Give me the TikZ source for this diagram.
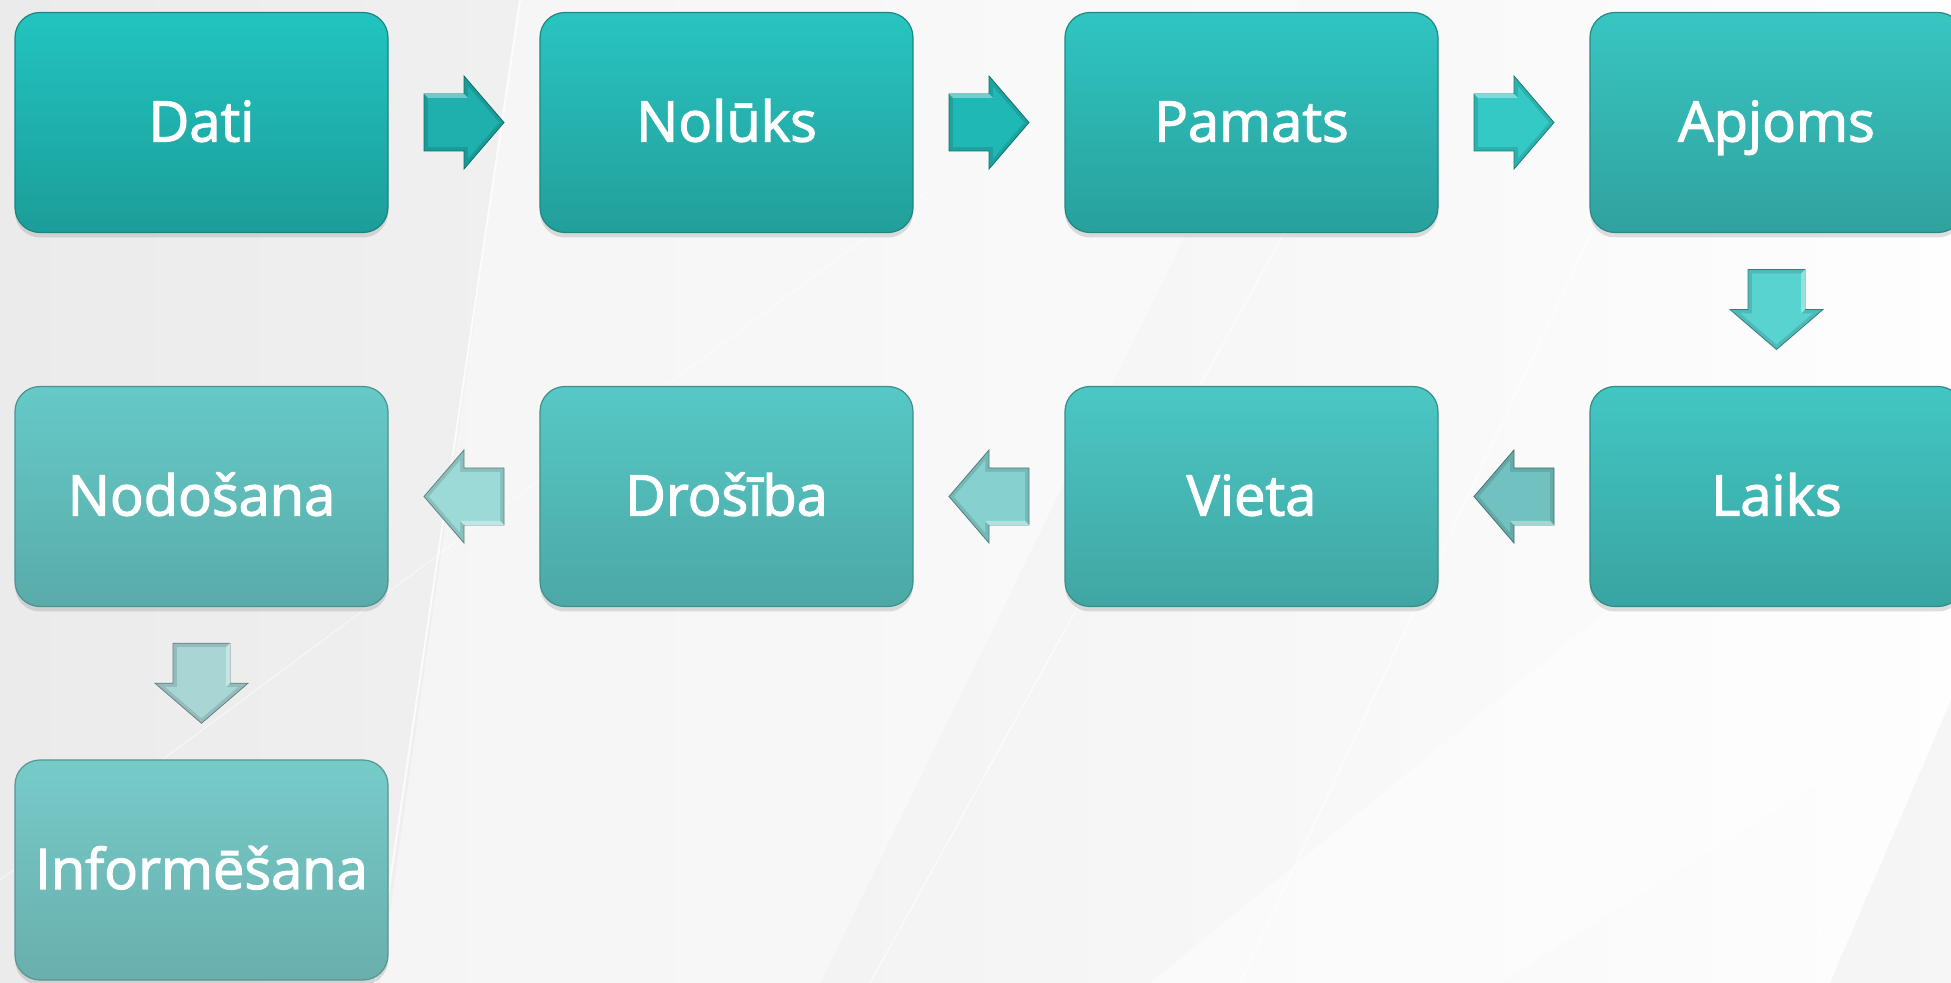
\documentclass[tikz,border=0pt]{standalone}
\usepackage{fontspec}
\setmainfont{Open Sans}
\usetikzlibrary{calc,shadows}
\definecolor{tealdeep}{HTML}{22C4C0}
\definecolor{tealdark}{HTML}{1C9D99}
\definecolor{tealpale}{HTML}{76CBC9}
\definecolor{paledark}{HTML}{69AFAD}
\definecolor{backgrey}{HTML}{EBEBEB}
\newcommand{\heavier}[1]{\special{pdf:literal direct 2 Tr 0.6 w}#1\special{pdf:literal direct 0 Tr}}
\tikzset{
  stepbox/.style={rounded corners=12.5pt, minimum width=186.5pt, minimum height=110pt,
    text=white, font=\fontsize{28}{32}\selectfont, text height=20pt, text depth=1pt,
    line width=0.6pt,
    drop shadow={opacity=0.25, shadow xshift=0pt, shadow yshift=-2.5pt}},
  pics/blockarrow/.style={code={
    \filldraw[fill=#1!88!black, draw=#1!60!black, line width=0.4pt]
      (-40,-28.5) -- (0,-28.5) -- (0,-46.5) -- (40,0) -- (0,46.5) -- (0,28.5) -- (-40,28.5) -- cycle;
    \fill[#1] (-36,-24.5) -- (4,-24.5) -- (4,-36) -- (35,0) -- (4,36) -- (4,24.5) -- (-36,24.5) -- cycle;
    \fill[#1!65!white] (-40,-28.5) -- (0,-28.5) -- (4,-24.5) -- (-36,-24.5) -- cycle;
  }}
}
\begin{document}
\begin{tikzpicture}[x=0.5pt, y=-0.5pt]
  % page and background
  \clip (0,0) rectangle (1951,983);
  \useasboundingbox (0,0) rectangle (1951,983);
  \shade[left color=backgrey, right color=white!94!backgrey] (0,0) rectangle (1951,983);
  \fill[white, opacity=0.4] (520,0) -- (1300,0) -- (820,983) -- (380,983) -- cycle;
  \fill[white, opacity=0.45] (1951,330) -- (1951,700) -- (1500,983) -- (1150,983) -- cycle;
  \fill[black, opacity=0.03] (1951,700) -- (1951,983) -- (1830,983) -- cycle;
  \draw[white, line width=1pt, opacity=0.8] (520,0) -- (375,983);
  \draw[white, line width=0.8pt, opacity=0.6] (1330,150) -- (870,983);
  \draw[white, line width=0.8pt, opacity=0.6] (1700,0) -- (1240,983);
  \draw[white, line width=0.6pt, opacity=0.5] (0,880) -- (930,190);
  \draw[white, line width=0.8pt, opacity=0.6] (1951,600) -- (1800,983);
  % steps
  \foreach \name/\txt/\cx/\cy/\p in {
      dati/Dati/201.5/122.5/100, nolu/Nolūks/726.5/122.5/92,
      pama/Pamats/1251.5/122.5/84, apjo/Apjoms/1776.5/122.5/74,
      laik/Laiks/1776.5/496.5/62, viet/Vieta/1251.5/496.5/52,
      dros/Drošība/726.5/496.5/38, nodo/Nodošana/201.5/496.5/20,
      info/Informēšana/201.5/870/0} {
    \node[stepbox, top color=tealdeep!\p!tealpale, bottom color=tealdark!\p!paledark,
      draw=tealdark!\p!paledark!85!black] (\name) at (\cx,\cy) {\heavier{\txt}};
  }
  % arrows between the steps
  \pic at ($(dati.east)!0.5!(nolu.west)$) {blockarrow=tealdeep!90!black};
  \pic at ($(nolu.east)!0.5!(pama.west)$) {blockarrow=tealdeep!94!black};
  \pic at ($(pama.east)!0.5!(apjo.west)$) {blockarrow=tealdeep!92!white};
  \pic[rotate=-90] at ($(apjo.south)!0.5!(laik.north)$) {blockarrow=tealdeep!75!white};
  \pic[rotate=180] at ($(laik.west)!0.5!(viet.east)$) {blockarrow=tealpale!95!black};
  \pic[rotate=180] at ($(viet.west)!0.5!(dros.east)$) {blockarrow=tealpale!88!white};
  \pic[rotate=180] at ($(dros.west)!0.5!(nodo.east)$) {blockarrow=tealpale!72!white};
  \pic[rotate=-90] at ($(nodo.south)!0.5!(info.north)$) {blockarrow=tealpale!60!white!90!gray};
\end{tikzpicture}
\end{document}
